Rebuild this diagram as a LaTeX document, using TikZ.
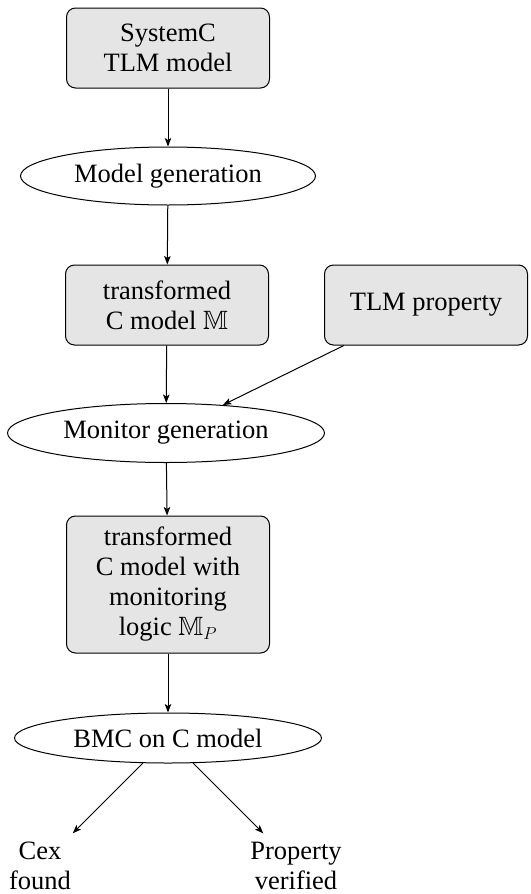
\documentclass[tikz,border=0pt]{standalone}
\usepackage{amssymb}
\usepackage{fontspec}
\setmainfont{Liberation Serif}
\usetikzlibrary{shapes.geometric,arrows.meta}
\begin{document}
\begin{tikzpicture}[x=1pt,y=-1pt,
  every node/.style={font=\fontsize{26.5}{30}\selectfont},
  procbox/.style={draw, line width=1pt, fill=gray!20, rounded corners=9pt, align=center, minimum width=203pt, minimum height=80pt, inner sep=0pt},
  stage/.style={draw, line width=1pt, ellipse, inner sep=0pt, align=center},
  result/.style={align=center, inner sep=8.7pt},
  flow/.style={line width=1pt, -{Stealth[length=8.5pt,width=6.5pt,inset=2pt]}}]
\useasboundingbox (0,0) rectangle (530,894);
\node[procbox] (sysc) at (168,48) {SystemC\\TLM model};
\node[stage, minimum width=295pt, minimum height=58pt] (mgen) at (168,176) {Model generation};
\node[procbox] (cmod) at (167,305) {transformed\\C model $\mathbb{M}$};
\node[procbox] (prop) at (426,305) {TLM property};
\node[stage, minimum width=317pt, minimum height=59pt] (mon) at (166,433) {Monitor generation};
\node[procbox, minimum height=137pt] (cmon) at (168,584.5) {transformed\\C model with\\monitoring\\logic $\mathbb{M}_P$};
\node[stage, minimum width=307pt, minimum height=50pt] (bmc) at (168,738) {BMC on C model};
\node[result] (cex) at (40,866) {Cex\\found};
\node[result] (ver) at (296,866) {Property\\verified};
\draw[flow] (sysc) -- (mgen);
\draw[flow] (mgen) -- (cmod);
\draw[flow] (cmod) -- (mon);
\draw[flow] (prop) -- (mon);
\draw[flow] (mon) -- (cmon);
\draw[flow] (cmon) -- (bmc);
\draw[flow] (bmc) -- (cex);
\draw[flow] (bmc) -- (ver);
\end{tikzpicture}
\end{document}
